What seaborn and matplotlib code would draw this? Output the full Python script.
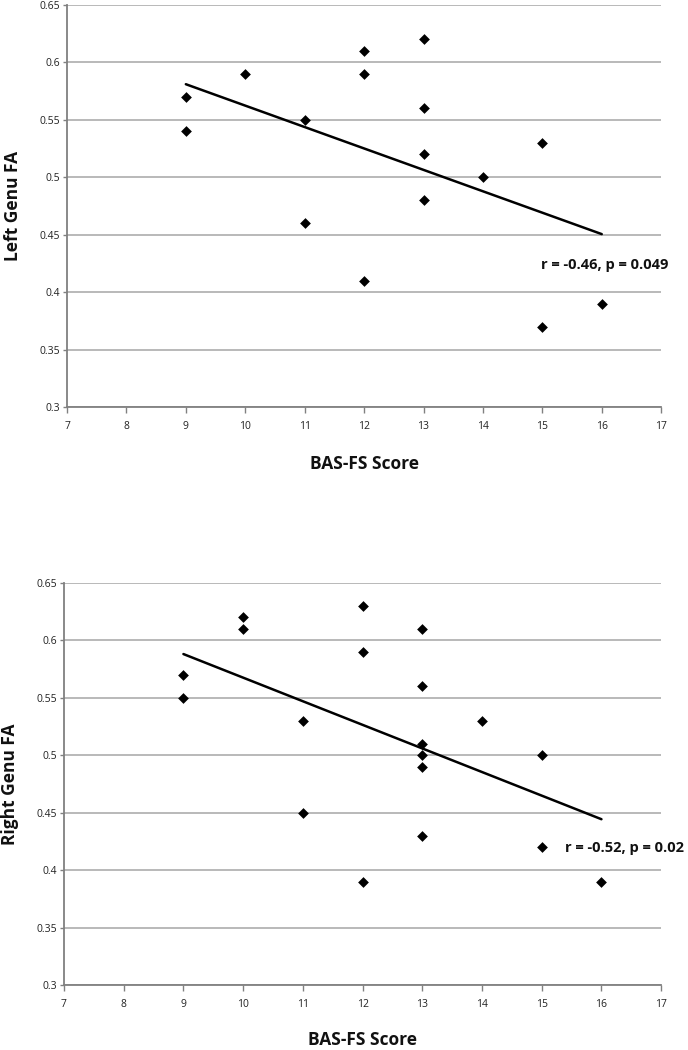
import matplotlib
matplotlib.use("Agg")
import matplotlib.pyplot as plt
import seaborn as sns
import numpy as np

# Data
left_score = [9, 9, 10, 11, 11, 12, 12, 12, 13, 13, 13, 13, 14, 15, 15, 16]
left_fa = [0.57, 0.54, 0.59, 0.55, 0.46, 0.61, 0.59, 0.41, 0.62, 0.56, 0.52, 0.48, 0.50, 0.53, 0.37, 0.39]

right_score = [9, 9, 10, 10, 11, 11, 12, 12, 12, 13, 13, 13, 13, 13, 13, 14, 15, 15, 16]
right_fa = [0.57, 0.55, 0.62, 0.61, 0.53, 0.45, 0.63, 0.59, 0.39, 0.61, 0.56, 0.51, 0.50, 0.49, 0.43, 0.53, 0.50, 0.42, 0.39]

x_ticks = [7, 8, 9, 10, 11, 12, 13, 14, 15, 16, 17]
y_ticks = [0.3, 0.35, 0.4, 0.45, 0.5, 0.55, 0.6, 0.65]
y_tick_labels = ["0.3", "0.35", "0.4", "0.45", "0.5", "0.55", "0.6", "0.65"]

sns.set_theme(style="white")
plt.rcParams['font.family'] = ['Open Sans', 'DejaVu Sans']

fig = plt.figure(figsize=(6.88, 10.5), dpi=100)
ax1 = fig.add_axes([0.0974, 0.6124, 0.8636, 0.3828])
ax2 = fig.add_axes([0.0930, 0.0619, 0.8680, 0.3829])

panels = [
    (ax1, left_score, left_fa, "Left Genu FA", "r = -0.46, p = 0.049", (14.98, 0.424), -0.091, -0.142),
    (ax2, right_score, right_fa, "Right Genu FA", "r = -0.52, p = 0.02", (15.39, 0.419), -0.090, -0.137),
]

for ax, xs, ys, ylab, note, pos, ylx, xly in panels:
    sns.regplot(x=xs, y=ys, ax=ax, ci=None, truncate=True, marker="D",
                scatter_kws=dict(s=30, color="black", edgecolors="black", linewidths=0,
                                 alpha=1, zorder=4),
                line_kws=dict(color="black", lw=1.8, zorder=3))
    ax.set_xlim(7, 17)
    ax.set_ylim(0.3, 0.65)
    ax.set_xticks(x_ticks)
    ax.set_xticklabels([str(t) for t in x_ticks])
    ax.set_yticks(y_ticks)
    ax.set_yticklabels(y_tick_labels)
    ax.yaxis.grid(True, color="#a6a6a6", lw=1.1)
    ax.xaxis.grid(False)
    ax.set_axisbelow(True)
    for s in ["top", "right"]:
        ax.spines[s].set_visible(False)
    for s in ["left", "bottom"]:
        ax.spines[s].set_color("#808080")
        ax.spines[s].set_linewidth(1.3)
    ax.tick_params(axis="x", which="both", direction="out", length=4, width=1,
                   color="#808080", labelsize=7.5, labelcolor="#222222", pad=6, bottom=True)
    ax.tick_params(axis="y", which="both", direction="out", length=3, width=1,
                   color="#808080", labelsize=7.5, labelcolor="#222222", pad=2, left=True)
    ax.set_xlabel("BAS-FS Score", fontsize=12.5, fontweight="bold", color="#111111")
    ax.set_ylabel(ylab, fontsize=12.5, fontweight="bold", color="#111111")
    ax.yaxis.set_label_coords(ylx, 0.5)
    ax.xaxis.set_label_coords(0.5, xly)
    ax.xaxis.label.set_va("center")
    ax.yaxis.label.set_va("center")
    ax.text(pos[0], pos[1], note, fontsize=10.5, fontweight="bold", va="center", ha="left", color="#111111")

fig.savefig("out.png", dpi=100)
